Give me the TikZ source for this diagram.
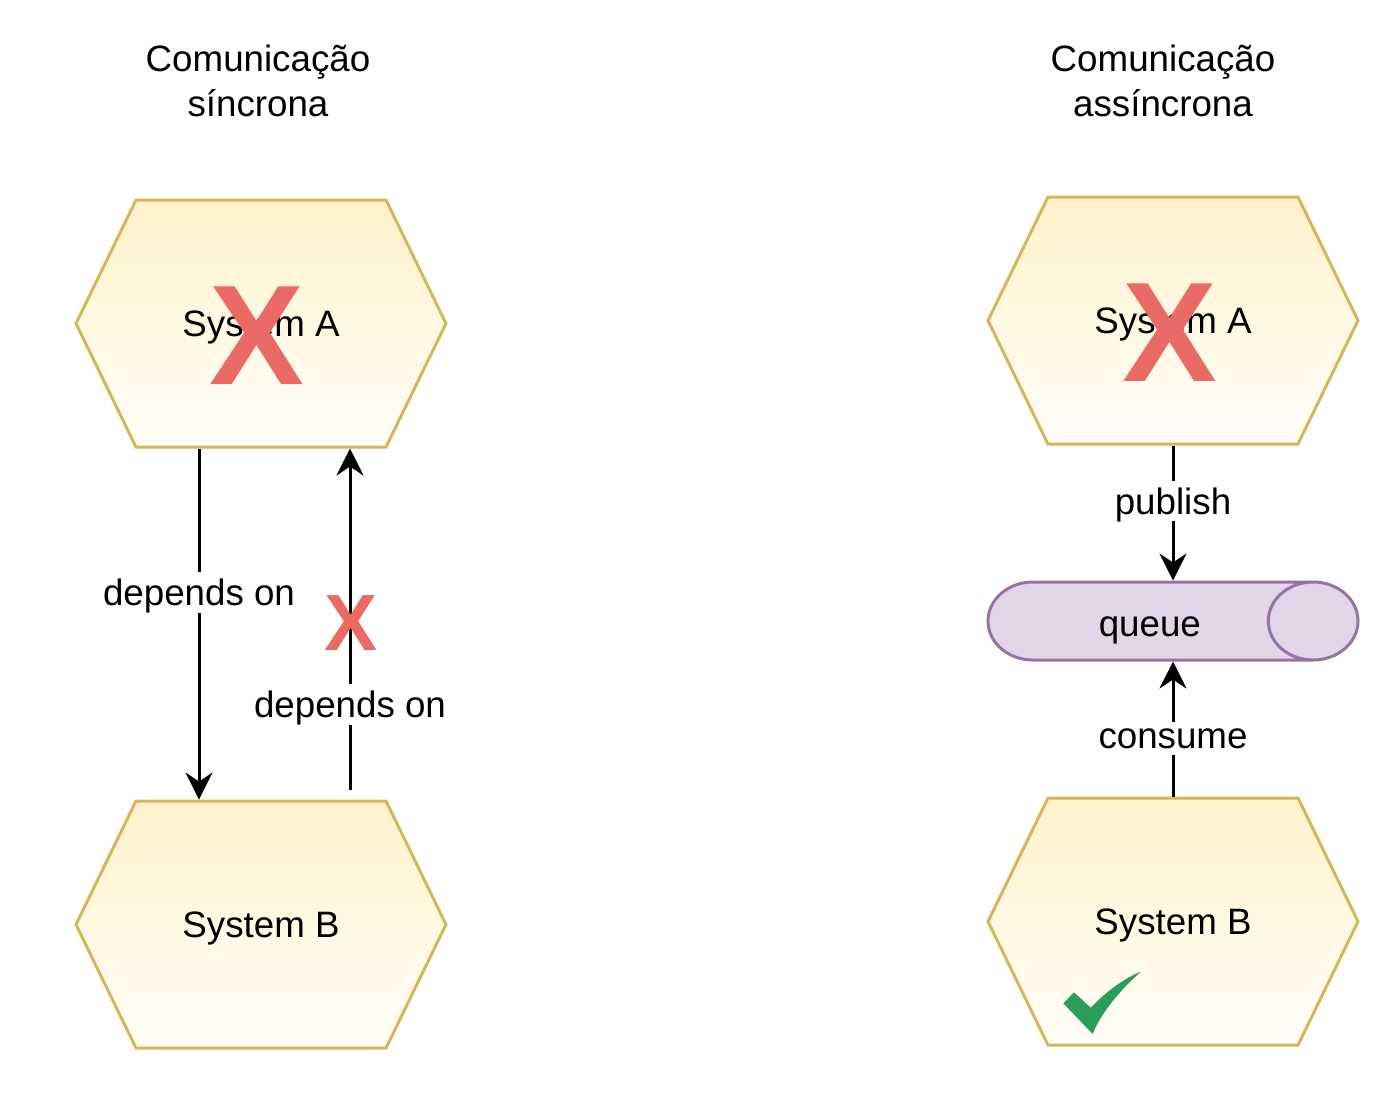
\documentclass[tikz,border=0pt]{standalone}
\usepackage{fontspec}
\setmainfont{Liberation Sans}
\usepackage{xcolor}
\usepackage{tikz}
\usetikzlibrary{shapes.symbols,shapes.geometric,arrows.meta}

\definecolor{hexline}{HTML}{D6B656}
\definecolor{hextop}{HTML}{FFF2CC}
\definecolor{hexbot}{HTML}{FFFDF7}
\definecolor{qfill}{HTML}{E1D5E7}
\definecolor{qline}{HTML}{9673A6}
\definecolor{crossred}{HTML}{EA6B66}
\definecolor{okgreen}{HTML}{2A9D5C}

\begin{document}
\begin{tikzpicture}[line width=0.3mm, font=\fontsize{10.45}{12.8}\selectfont,
	hexa/.style = {draw=hexline, signal, signal to=west and east, signal pointer angle=128.2,
		minimum width=3.7cm, minimum height=2.47cm, inner sep=0pt, text depth=0pt,
		top color=hextop, bottom color=hexbot},
	que/.style = {draw=qline, cylinder, aspect=2.9, minimum height=3.7cm, minimum width=0.78cm,
		inner sep=0pt, text height=8.8pt, text depth=0pt,
		cylinder uses custom fill, cylinder body fill=qfill, cylinder end fill=qfill},
	lbl/.style = {fill=white, inner sep=2pt, text depth=0pt},
	cross/.style = {text=crossred, font=\fontsize{#1}{#1}\bfseries, inner sep=0pt},
	arr/.style = {-{Stealth[length=2.7mm, width=2.7mm, inset=0.9mm]}}]
	\useasboundingbox (0,0) rectangle (14,-10.93);
	% titles
	\node[align=center] (t1) at (2.58,-0.805) {Comunicação\\síncrona};
	\node[align=center] (t2) at (11.63,-0.805) {Comunicação\\assíncrona};
	% synchronous side
	\node[hexa] (a1) at (2.61,-3.235) {System A};
	\node[hexa] (b1) at (2.61,-9.245) {System B};
	\coordinate (s1) at (3.50,-7.90);
	\draw[arr] ([xshift=-6.2mm]a1.south) -- node[lbl, pos=0.41] {depends on} ([xshift=-6.2mm]b1.north);
	\draw[arr] (s1) -- node[lbl, pos=0.25] {depends on} (s1 |- a1.south);
	\node[cross=40.4pt] (x1) at (2.57,-3.36) {X};
	\node[cross=22.7pt] (x2) at (3.515,-6.235) {X};
	% asynchronous side
	\node[hexa] (a2) at (11.73,-3.205) {System A};
	\node[hexa] (b2) at (11.73,-9.215) {System B};
	\node[que, anchor=shape center] (q) at (11.73,-6.21) {queue};
	\draw[arr] (a2.south) -- node[lbl, pos=0.41] {publish} (q.north -| a2.south);
	\draw[arr] (b2.north) -- node[lbl, pos=0.43] {consume} (q.south -| b2.north);
	\node[cross=40.4pt] (x3) at (11.70,-3.33) {X};
	% check mark
	\fill[okgreen] (10.633,-10.033) -- (10.74,-9.923) -- (10.907,-10.077)
		.. controls (11.08,-9.90) and (11.25,-9.78) .. (11.407,-9.717)
		.. controls (11.18,-9.92) and (11.0,-10.15) .. (10.927,-10.34) -- cycle;
\end{tikzpicture}
\end{document}
